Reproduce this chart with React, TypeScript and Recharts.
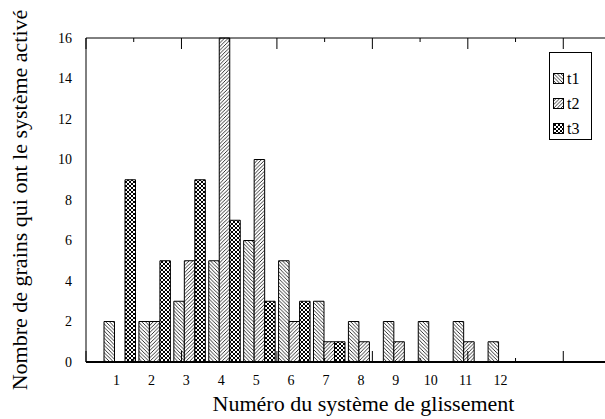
import { BarChart, Bar, XAxis, YAxis, Legend, Label } from 'recharts'

const systems = ['1', '2', '3', '4', '5', '6', '7', '8', '9', '10', '11', '12']
const t1 = [2, 2, 3, 5, 6, 5, 3, 2, 2, 2, 2, 1]
const t2 = [0, 2, 5, 16, 10, 2, 1, 1, 1, 0, 1, 0]
const t3 = [9, 5, 9, 7, 3, 3, 1, 0, 0, 0, 0, 0]

const yLabels = [0, 2, 4, 6, 8, 10, 12, 14, 16]
const yTicks = [0, 1, 2, 3, 4, 5, 6, 7, 8, 9, 10, 11, 12, 13, 14, 15, 16]
const xTicks = [0, 1, 2, 3, 4, 5, 6, 7, 8, 9, 10, 11, 12, 13, 14]

const data = systems.map((sys, i) => ({ sys, t1: t1[i], t2: t2[i], t3: t3[i] }))

const FONT = '"Liberation Serif", "Times New Roman", serif'

// little inward tick marks, long on even values
function edgeTick(dx: number, dy: number) {
  return (props: any) => {
    const { x, y, payload } = props
    const len = payload.value % 2 === 0 ? 11 : 4
    return <line x1={x} y1={y} x2={x + dx * len} y2={y + dy * len} stroke="#000" strokeWidth={1} />
  }
}

function YTitle(props: any) {
  const vb = props.viewBox
  const cy = vb.y + vb.height / 2
  return (
    <text x={27} y={cy} transform={`rotate(-90, 27, ${cy})`} textAnchor="middle" fontFamily={FONT} fontSize={22} fill="#000">
      Nombre de grains qui ont le système activé
    </text>
  )
}

function XTitle(props: any) {
  const vb = props.viewBox
  return (
    <text x={vb.x + vb.width / 2 + 15} y={vb.y + vb.height - 8} textAnchor="middle" fontFamily={FONT} fontSize={22} fill="#000">
      Numéro du système de glissement
    </text>
  )
}

function LegendBox({ payload }: any) {
  return (
    <div style={{ width: 43, height: 88, boxSizing: 'border-box', border: '1px solid #000', background: '#fff', paddingTop: 13, paddingLeft: 3, fontFamily: FONT, fontSize: 16 }}>
      {(payload || []).map((p: any) => (
        <div key={p.value} style={{ display: 'flex', alignItems: 'center', height: 25 }}>
          <svg width={12} height={12} style={{ marginRight: 2 }}>
            <rect x={0.5} y={0.5} width={10} height={10} fill={p.color} stroke="#000" />
          </svg>
          <span>{p.value}</span>
        </div>
      ))}
    </div>
  )
}

export default function App() {
  return (
    <div style={{ position: 'absolute', left: 0, top: 0, width: 605, height: 419, overflow: 'hidden', background: '#fff' }}>
      <BarChart width={625} height={419} data={data} margin={{ top: 38, right: 14, bottom: 0, left: 0 }} barCategoryGap={1.7} barGap={0}>
        <defs>
          <pattern id="hatch1" width={3.6} height={3.6} patternUnits="userSpaceOnUse">
            <rect width={3.6} height={3.6} fill="#fff" />
            <path d="M-1,-1 L4.6,4.6 M-1,2.6 L1,4.6 M2.6,-1 L4.6,1" stroke="#000" strokeWidth={0.8} />
          </pattern>
          <pattern id="hatch2" width={3.6} height={3.6} patternUnits="userSpaceOnUse">
            <rect width={3.6} height={3.6} fill="#fff" />
            <path d="M-1,4.6 L4.6,-1 M-1,1 L1,-1 M2.6,4.6 L4.6,2.6" stroke="#000" strokeWidth={0.8} />
          </pattern>
          <pattern id="hatch3" width={4} height={4} patternUnits="userSpaceOnUse">
            <rect width={4} height={4} fill="#fff" />
            <path d="M-1,-1 L5,5 M-1,3 L1,5 M3,-1 L5,1 M-1,5 L5,-1 M-1,1 L1,-1 M3,5 L5,3" stroke="#000" strokeWidth={1} />
          </pattern>
        </defs>

        <XAxis
          xAxisId="cat"
          dataKey="sys"
          orientation="bottom"
          height={57}
          padding={{ left: 16, right: 90 }}
          axisLine={{ stroke: '#000', strokeWidth: 2 }}
          tickLine={false}
          tickSize={0}
          tickMargin={13}
          interval={0}
          tick={{ fill: '#000', fontSize: 14, fontFamily: FONT, dx: -3 }}
          label={<Label content={XTitle} />}
        />
        <XAxis xAxisId="top" type="number" orientation="top" mirror domain={[0, 14]} ticks={xTicks} allowDataOverflow
          interval={0} axisLine={{ stroke: '#000' }} tickLine={false} tickSize={0} tickMargin={0} tick={edgeTick(0, 1)} />
        <XAxis xAxisId="bot" type="number" orientation="bottom" mirror domain={[0, 14]} ticks={xTicks} allowDataOverflow
          interval={0} axisLine={false} tickLine={false} tickSize={0} tickMargin={0} tick={edgeTick(0, -1)} />

        <YAxis
          yAxisId="v"
          domain={[0, 16]}
          ticks={yLabels}
          width={86}
          interval={0}
          axisLine={{ stroke: '#000' }}
          tickLine={false}
          tickSize={0}
          tickMargin={14}
          tick={{ fill: '#000', fontSize: 14, fontFamily: FONT }}
          label={<Label content={YTitle} />}
        />
        <YAxis yAxisId="tl" orientation="left" mirror domain={[0, 16]} ticks={yTicks} interval={0}
          axisLine={false} tickLine={false} tickSize={0} tickMargin={0} tick={edgeTick(1, 0)} />
        <YAxis yAxisId="tr" orientation="right" mirror domain={[0, 16]} ticks={yTicks} interval={0}
          axisLine={{ stroke: '#000' }} tickLine={false} tickSize={0} tickMargin={0} tick={edgeTick(-1, 0)} />

        <Legend layout="vertical" align="center" verticalAlign="middle" wrapperStyle={{ left: 549, top: 52, width: 43 }} content={<LegendBox />} />

        <Bar xAxisId="cat" yAxisId="v" dataKey="t1" name="t1" fill="url(#hatch1)" stroke="#000" strokeWidth={1} barSize={10.5} isAnimationActive={false} />
        <Bar xAxisId="cat" yAxisId="v" dataKey="t2" name="t2" fill="url(#hatch2)" stroke="#000" strokeWidth={1} barSize={10.5} isAnimationActive={false} />
        <Bar xAxisId="cat" yAxisId="v" dataKey="t3" name="t3" fill="url(#hatch3)" stroke="#000" strokeWidth={1} barSize={10.5} isAnimationActive={false} />
      </BarChart>
    </div>
  )
}
